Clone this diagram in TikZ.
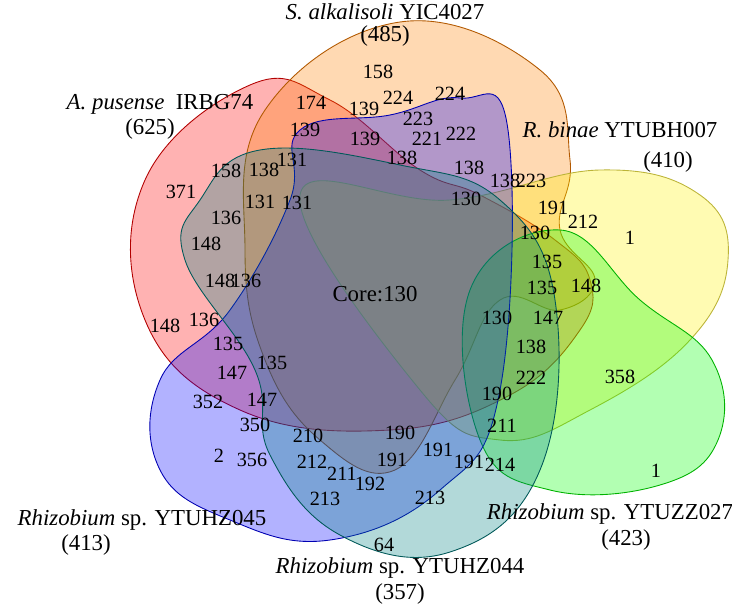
\documentclass[tikz,border=0pt]{standalone}
\usepackage{fontspec}
\setmainfont{Liberation Serif}
\usepackage{tikz}
\usetikzlibrary{calc}
\tikzset{num/.style={font=\fontsize{11.5}{12}\selectfont,inner sep=0pt},
  setlab/.style={font=\fontsize{13}{14}\selectfont,align=center,inner sep=0pt},
  blob/.style={draw=#1!70!black,fill=#1,fill opacity=0.3,line width=0.5pt}}
\begin{document}
\begin{tikzpicture}[x=0.02cm,y=-0.02cm]
    \useasboundingbox (0,0) rectangle (732,604);
    % sets
    \draw[blob=red] plot[smooth cycle,tension=0.7] coordinates {(250,85) (145,180) (145,320) (240,410) (390,430) (510,395) (580,330) (590,280) (555,240) (480,195) (420,170) (330,100)};
    \draw[blob=orange] plot[smooth cycle,tension=0.7] coordinates {(400,22) (540,70) (570,160) (560,230) (595,280) (560,310) (500,300) (455,380) (395,470) (320,440) (265,360) (245,250) (265,110)};
    \draw[blob=yellow] plot[smooth cycle,tension=0.7] coordinates {(300,195) (450,200) (600,170) (700,195) (728,260) (690,340) (590,410) (500,440) (420,390)};
    \draw[blob=green] plot[smooth cycle,tension=0.7] coordinates {(470,290) (560,230) (640,300) (712,360) (718,440) (660,485) (550,490) (480,440)};
    \draw[blob=blue] plot[smooth cycle,tension=0.7] coordinates {(230,310) (160,380) (160,470) (230,520) (330,540) (440,490) (500,390) (508,130) (460,98) (390,115) (300,130) (290,200)};
    \draw[blob=teal] plot[smooth cycle,tension=0.7] coordinates {(200,200) (260,150) (400,165) (500,200) (555,300) (540,470) (450,552) (340,535) (270,455) (255,370) (185,260)};
    % labels
    \node[setlab] (la) at (160,104) {\textit{A. pusense}\ \ IRBG74};
    \node[setlab] (lan) at (150,129) {(625)};
    \node[setlab] (ls) at (385,12) {\textit{S. alkalisoli} YIC4027};
    \node[setlab] (lsn) at (385,36) {(485)};
    \node[setlab] (lr) at (620,130) {\textit{R. binae} YTUBH007};
    \node[setlab] (lrn) at (668,162) {(410)};
    \node[setlab] (lz) at (610,514) {\textit{Rhizobium} sp. YTUZZ027};
    \node[setlab] (lzn) at (626,540) {(423)};
    \node[setlab] (l45) at (142,520) {\textit{Rhizobium} sp. YTUHZ045};
    \node[setlab] (l45n) at (86,545) {(413)};
    \node[setlab] (l44) at (400,568) {\textit{Rhizobium} sp. YTUHZ044};
    \node[setlab] (l44n) at (400,594) {(357)};
    \node[setlab] (core) at (375,294) {Core:130};
    % counts
    \foreach \x/\y/\t in {
      378/72/158, 311/103/174, 364/109/139, 398/98/224, 450/94/224,
      305/130/139, 365/139/139, 418/119/223, 427/139/221, 461/134/222,
      402/158/138, 469/168/138, 505/181/138, 531/181/223, 466/199/130,
      181/192/371, 226/171/158, 264/170/138, 292/160/131,
      260/202/131, 297/203/131, 226/218/136, 206/244/148,
      220/281/148, 246/281/136, 165/326/148, 204/320/136,
      228/344/135, 272/363/135, 232/373/147, 262/400/147,
      208/402/352, 255/425/350, 219/456/2, 252/460/356,
      308/436/210, 400/433/190, 438/450/191, 312/462/212,
      392/460/191, 342/474/211, 370/484/192, 325/499/213,
      430/498/213, 469/462/191, 500/465/214, 502/426/211,
      497/394/190, 531/378/222, 531/347/138, 497/318/130,
      548/318/147, 542/288/135, 586/286/148, 547/262/135,
      553/208/191, 535/233/130, 583/222/212, 630/238/1,
      620/377/358, 656/471/1, 384/545/64}
      \node[num] at (\x,\y) {\t};
\end{tikzpicture}
\end{document}
